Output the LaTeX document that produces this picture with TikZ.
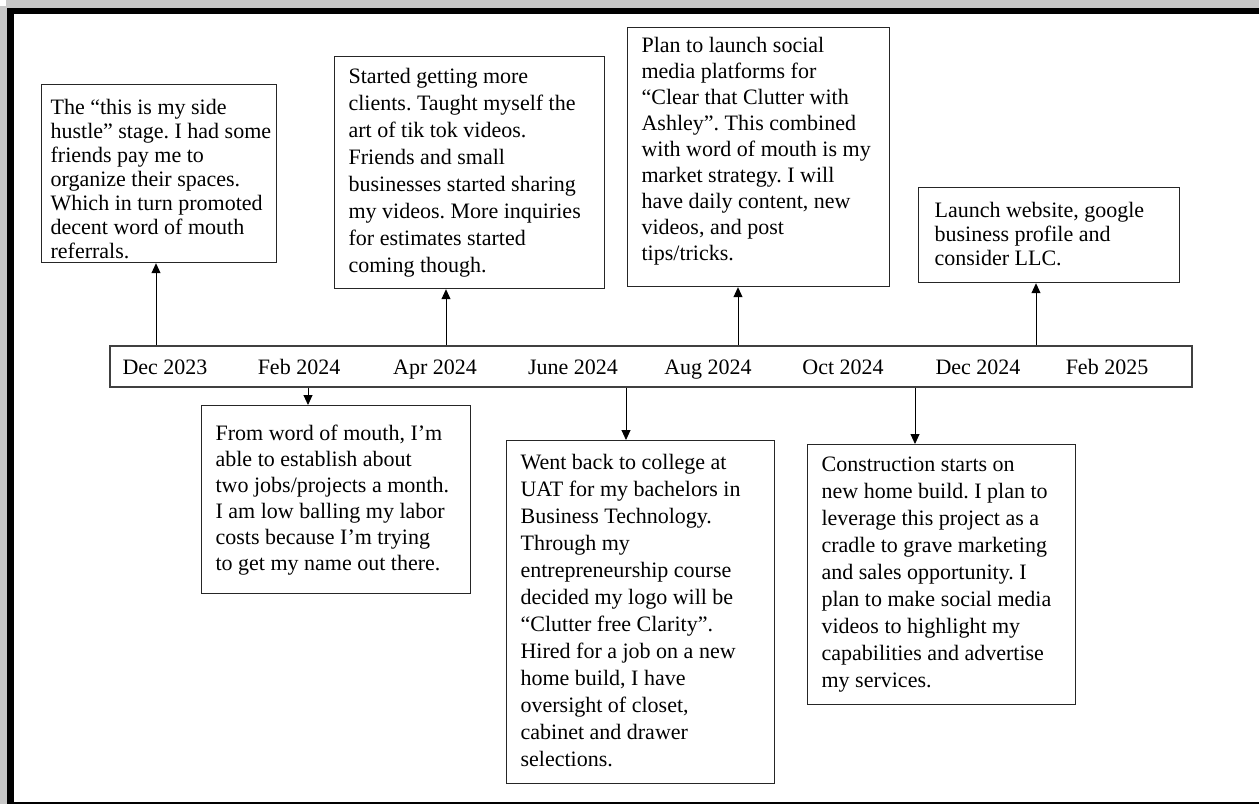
\documentclass[tikz,border=0pt]{standalone}
\usepackage{fontspec}
\setmainfont{Liberation Serif}
\usetikzlibrary{arrows.meta}
\frenchspacing
\newcommand\boxlines[1]{\begin{tabular}{@{}l@{}}#1\end{tabular}}
% #1 box height, #2 text width, #3 top pad, #4 line spacing, #5 lines
\newcommand\evtext[5]{\parbox[t][#1][t]{#2}{\fontsize{22}{#4}\selectfont\frenchspacing\vspace*{#3}\boxlines{#5}}}
\tikzset{
  ev/.style={draw=black!85, line width=1.2pt, fill=white, anchor=north west,
    inner ysep=0pt},
  bar/.style={draw=black!75, line width=1.8pt, anchor=north west, inner sep=0pt},
  mon/.style={font=\fontsize{22}{26}\selectfont, inner sep=0pt, anchor=base},
  arr/.style={line width=0.9pt, -{Triangle[length=10pt,width=9pt]}},
}
\begin{document}
\begin{tikzpicture}[x=1pt,y=-1pt]
\useasboundingbox (0,0) rectangle (1259,804);
% page frame
\fill[black!22] (6,0) rectangle (1259,8);
\fill[black!22] (0,6) rectangle (7,804);
\fill[black] (7,8) rectangle (1259,14);
\fill[black] (7,8) rectangle (14,804);
\draw[line width=1.5pt] (14,803) -- (1259,803);

% timeline bar
\node[bar, minimum width=1082pt, minimum height=41pt] (bar) at (109,345) {};
\foreach \n/\x/\t in {m1/165/Dec 2023, m2/299/Feb 2024, m3/435/Apr 2024, m4/573/June 2024,
  m5/708/Aug 2024, m6/843/Oct 2024, m7/978/Dec 2024, m8/1107/Feb 2025}
  \node[mon] (\n) at (\x,374) {\t};

% upper events
\node[ev, inner xsep=9pt] (e1) at (41,84) {\evtext{178pt}{217pt}{13pt}{24pt}{%
The “this is my side\\ hustle” stage. I had some\\ friends pay me to\\ organize their spaces.\\
Which in turn promoted\\ decent word of mouth\\ referrals.}};
\node[ev, inner xsep=14pt] (e3) at (334,56) {\evtext{232pt}{242pt}{8pt}{27pt}{%
Started getting more\\ clients. Taught myself the\\ art of tik tok videos.\\ Friends and small\\
businesses started sharing\\ my videos. More inquiries\\ for estimates started\\ coming though.}};
\node[ev, inner xsep=14pt] (e5) at (627,27) {\evtext{259pt}{234pt}{7pt}{26pt}{%
Plan to launch social\\ media platforms for\\ “Clear that Clutter with\\ Ashley”. This combined\\
with word of mouth is my\\ market strategy. I will\\ have daily content, new\\ videos, and post\\ tips/tricks.}};
\node[ev, inner xsep=16pt] (e8) at (918,187) {\evtext{95pt}{229pt}{13pt}{24pt}{%
Launch website, google\\ business profile and\\ consider LLC.}};

% lower events
\node[ev, inner xsep=14pt] (e2) at (201,405) {\evtext{188pt}{241pt}{17pt}{26pt}{%
From word of mouth, I’m\\ able to establish about\\ two jobs/projects a month.\\
I am low balling my labor\\ costs because I’m trying\\ to get my name out there.}};
\node[ev, inner xsep=14pt] (e4) at (506,440) {\evtext{343pt}{240pt}{10pt}{27pt}{%
Went back to college at\\ UAT for my bachelors in\\ Business Technology.\\ Through my\\
entrepreneurship course\\ decided my logo will be\\ “Clutter free Clarity”.\\ Hired for a job on a new\\
home build, I have\\ oversight of closet,\\ cabinet and drawer\\ selections.}};
\node[ev, inner xsep=14pt] (e7) at (807,444) {\evtext{260pt}{240pt}{8pt}{27pt}{%
Construction starts on\\ new home build. I plan to\\ leverage this project as a\\ cradle to grave marketing\\
and sales opportunity. I\\ plan to make social media\\ videos to highlight my\\ capabilities and advertise\\ my services.}};

% arrow positions
\coordinate (a1) at (156,0);
\coordinate (a3) at (446,0);
\coordinate (a5) at (738,0);
\coordinate (a8) at (1036,0);
\coordinate (a2) at (308,0);
\coordinate (a4) at (626,0);
\coordinate (a7) at (915,0);

\draw[arr] (a1 |- bar.north) -- (a1 |- e1.south);
\draw[arr] (a3 |- bar.north) -- (a3 |- e3.south);
\draw[arr] (a5 |- bar.north) -- (a5 |- e5.south);
\draw[arr] (a8 |- bar.north) -- (a8 |- e8.south);
\draw[arr] (a2 |- bar.south) -- (a2 |- e2.north);
\draw[arr] (a4 |- bar.south) -- (a4 |- e4.north);
\draw[arr] (a7 |- bar.south) -- (a7 |- e7.north);
\end{tikzpicture}
\end{document}
